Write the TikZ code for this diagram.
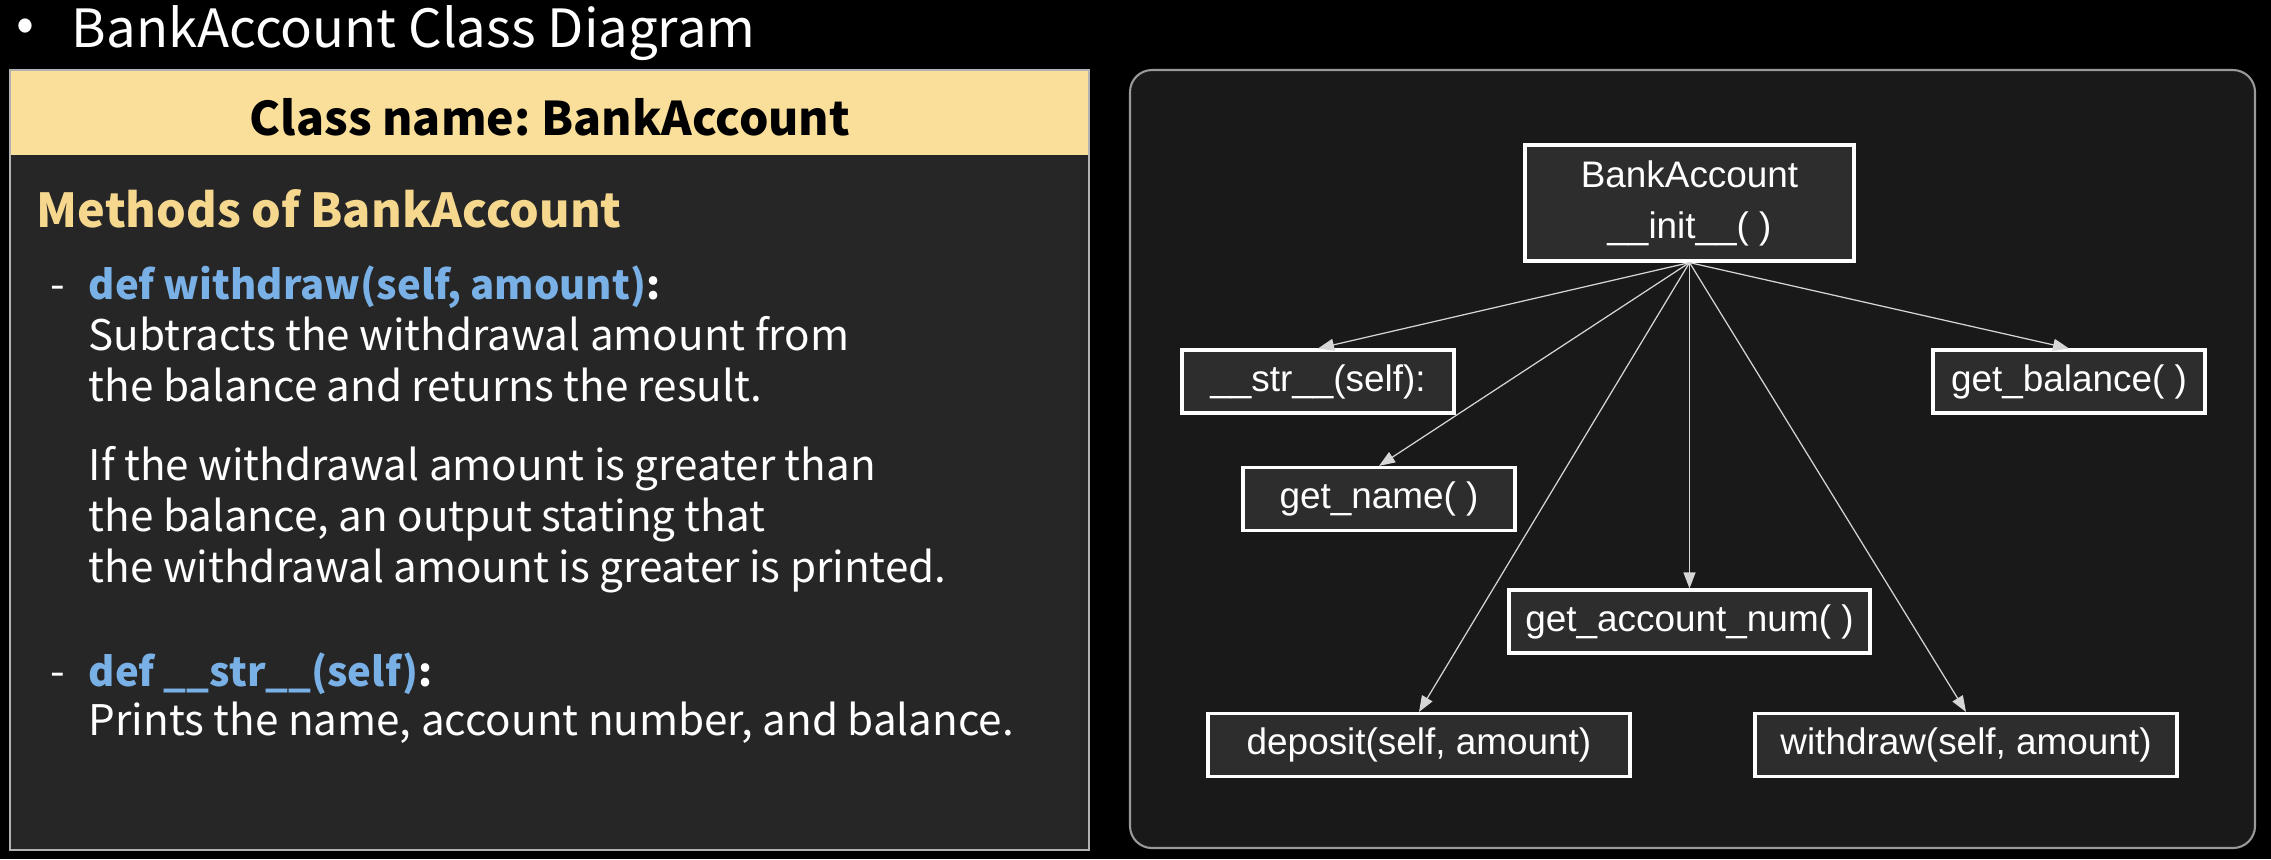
\documentclass[tikz,border=0pt]{standalone}
\usepackage{fontspec}
\setmainfont{Noto Sans CJK KR}
\newfontfamily\graphfont{Liberation Sans}
\usepackage{xcolor}
\usepackage{tikz}
\usetikzlibrary{positioning,arrows.meta}
\frenchspacing

\definecolor{headyellow}{HTML}{F9DF9A}
\definecolor{methodyellow}{HTML}{F5D78E}
\definecolor{defblue}{HTML}{79B0E6}
\definecolor{panelgray}{HTML}{262626}
\definecolor{graphback}{HTML}{191919}
\definecolor{boxgray}{HTML}{2D2D2D}
\definecolor{linegray}{HTML}{D6D6D6}

\tikzset{
  method/.style={draw=white, line width=0.9pt, fill=boxgray, text=white,
    font=\graphfont\fontsize{10.5}{14.5}\selectfont,
    minimum width=2.72cm, minimum height=0.63cm, inner sep=0pt},
  link/.style={-{Triangle[length=0.16cm,width=0.12cm]}, draw=linegray, line width=0.35pt},
  bodytext/.style={anchor=base west, text=white, inner sep=0pt,
    font=\fontsize{12}{14}\selectfont},
  deftext/.style={bodytext, font=\bfseries\fontsize{11.4}{14}\selectfont}
}

\begin{document}
\begin{tikzpicture}
    \useasboundingbox [fill=black] (0, 0) rectangle (22.71, -8.59);

    % Title
    \node [text=white, font=\fontsize{15}{18}\selectfont, inner sep=0pt] (bullet) at (0.25, -0.30) {•};
    \node [anchor=base west, text=white, inner sep=0pt, font=\fontsize{15}{18}\selectfont] (title) at (0.71, -0.47) {BankAccount Class Diagram};

    % Left panel
    \fill [panelgray] (0.10, -1.55) rectangle (10.89, -8.50);
    \fill [headyellow] (0.10, -0.70) rectangle (10.89, -1.55);
    \draw [gray!60, line width=0.6pt] (0.10, -0.70) rectangle (10.89, -8.50);
    \node [font=\bfseries\fontsize{13.2}{15}\selectfont, inner sep=0pt] (header) at (5.50, -1.17) {Class name: BankAccount};
    \node [anchor=base west, inner sep=0pt, text=methodyellow, font=\bfseries\fontsize{13.3}{15}\selectfont] (methods) at (0.36, -2.27) {Methods of BankAccount};

    % withdraw
    \node [bodytext] (dash1) at (0.50, -2.99) {-};
    \node [deftext] (def1) at (0.88, -2.99) {\textcolor{defblue}{def withdraw(self, amount)}:};
    \node [bodytext] (line1) at (0.88, -3.50) {Subtracts the withdrawal amount from};
    \node [bodytext] (line2) at (0.88, -4.01) {the balance and returns the result.};
    \node [bodytext] (line3) at (0.88, -4.80) {If the withdrawal amount is greater than};
    \node [bodytext] (line4) at (0.88, -5.31) {the balance, an output stating that};
    \node [bodytext] (line5) at (0.88, -5.82) {the withdrawal amount is greater is printed.};

    % str
    \node [bodytext] (dash2) at (0.50, -6.86) {-};
    \node [deftext] (def2) at (0.88, -6.86) {\textcolor{defblue}{def \_\_str\_\_(self)}:};
    \node [bodytext] (line6) at (0.88, -7.35) {Prints the name, account number, and balance.};

    % Right panel
    \draw [fill=graphback, draw=gray!80!white, line width=0.6pt, rounded corners=0.22cm] (11.30, -0.70) rectangle (22.55, -8.48);

    % Class boxes
    \node [method, minimum width=3.29cm, minimum height=1.16cm, align=center] (account) at (16.895, -2.03) {BankAccount\\\_\_init\_\_( )};
    \node [method] (str) at (13.18, -3.815) {\_\_str\_\_(self):};
    \node [method] (balance) at (20.69, -3.815) {get\_balance( )};
    \node [method] (name) at (13.79, -4.99) {get\_name( )};
    \node [method, minimum width=3.61cm] (accnum) at (16.895, -6.215) {get\_account\_num( )};
    \node [method, minimum width=4.22cm] (deposit) at (14.19, -7.45) {deposit(self, amount)};
    \node [method, minimum width=4.22cm] (withdraw) at (19.66, -7.45) {withdraw(self, amount)};

    % Links
    \draw [link] (account.south) -- (str.north);
    \draw [link] (account.south) -- (balance.north);
    \draw [link] (account.south) -- (name.north);
    \draw [link] (account.south) -- (accnum.north);
    \draw [link] (account.south) -- (deposit.north);
    \draw [link] (account.south) -- (withdraw.north);
\end{tikzpicture}
\end{document}
